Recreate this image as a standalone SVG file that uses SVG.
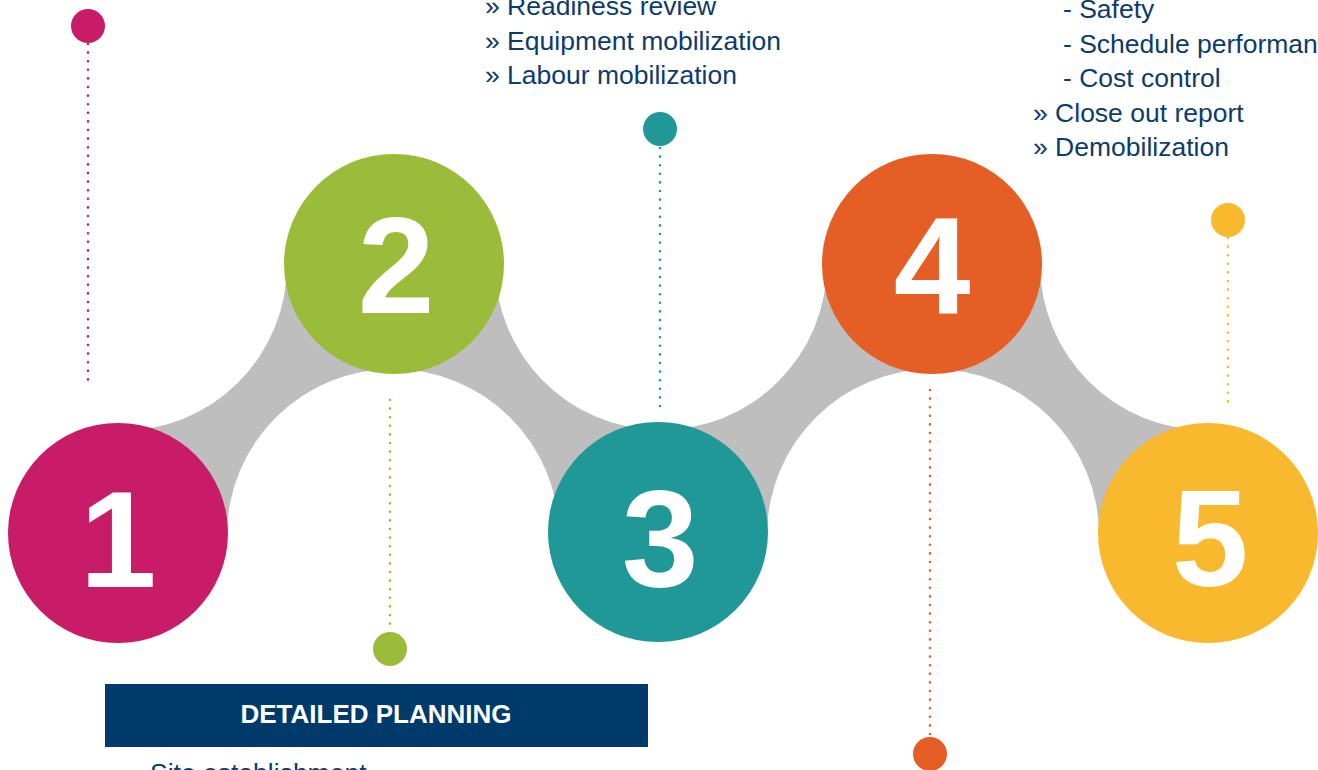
<svg xmlns="http://www.w3.org/2000/svg" width="1318" height="770" viewBox="0 0 1318 770">
<style>
.num{font-family:"Liberation Sans",Arial,sans-serif;font-weight:bold;font-size:138px;fill:#ffffff;text-anchor:middle}
.txt{font-family:"Liberation Sans",Arial,sans-serif;font-size:26.5px;fill:#0D3B6A}
.lead{fill:none;stroke-width:2.6;stroke-linecap:round;stroke-dasharray:0 8.6}
.hdr{font-family:"Liberation Sans",Arial,sans-serif;font-weight:bold;font-size:26px;fill:#ffffff;text-anchor:middle}
</style>
<rect width="1318" height="770" fill="#ffffff"/>
<g id="connectors">
<path fill="#BEBEBE" d="M118 533 L119.14 430.99 A166 166 0 0 0 287 264.39 L394 264 L393.61 369 A166 166 0 0 0 227 533.79 Z
M394 264 L495 264 A166 166 0 0 0 659.14 429.99 L658 532 L558.99 533.12 A166 166 0 0 0 393.61 369 Z
M658 532 L659.14 429.99 A166 166 0 0 0 827 264 L932 264 L932.39 369 A166 166 0 0 0 767.01 533.19 Z
M932 264 L1040 264 A166 166 0 0 0 1207.23 430 L1208 533 L1099 533.79 A166 166 0 0 0 932.39 369 Z"/>
</g>
<g id="node1">
<circle cx="118" cy="533" r="110" fill="#C81B68"/>
<text class="num" x="118" y="587">1</text>
</g>
<g id="node2">
<circle cx="394" cy="264" r="110" fill="#9BBB3B"/>
<text class="num" x="396" y="313">2</text>
</g>
<g id="node3">
<circle cx="658" cy="532" r="110" fill="#219898"/>
<text class="num" x="660" y="586">3</text>
</g>
<g id="node4">
<circle cx="932" cy="264" r="110" fill="#E55E25"/>
<text class="num" x="932" y="313">4</text>
</g>
<g id="node5">
<circle cx="1208" cy="533" r="110" fill="#F8B92E"/>
<text class="num" x="1210" y="586">5</text>
</g>
<g id="callout1">
<line class="lead" x1="88" y1="44" x2="88" y2="387" stroke="#C81B68"/>
<circle cx="88" cy="26" r="17" fill="#C81B68"/>
</g>
<g id="callout2">
<line class="lead" x1="390" y1="400" x2="390" y2="631" stroke="#9BBB3B"/>
<circle cx="390" cy="649" r="17" fill="#9BBB3B"/>
<rect x="105" y="684" width="543" height="63" fill="#003A6A"/>
<text class="hdr" x="376" y="723">DETAILED PLANNING</text>
<text class="txt" x="150" y="782">Site establishment</text>
</g>
<g id="callout3">
<line class="lead" x1="660" y1="148" x2="660" y2="410" stroke="#219898"/>
<circle cx="660" cy="129" r="17" fill="#219898"/>
<text class="txt" x="485" y="15">» Readiness review</text>
<text class="txt" x="485" y="50">» Equipment mobilization</text>
<text class="txt" x="485" y="84">» Labour mobilization</text>
</g>
<g id="callout4">
<line class="lead" x1="930" y1="390" x2="930" y2="736" stroke="#E55E25"/>
<circle cx="930" cy="754" r="17" fill="#E55E25"/>
</g>
<g id="callout5">
<line class="lead" x1="1228" y1="238" x2="1228" y2="410" stroke="#F8B92E"/>
<circle cx="1228" cy="220" r="17" fill="#F8B92E"/>
<text class="txt" x="1063" y="18">- Safety</text>
<text class="txt" x="1063" y="53">- Schedule performance</text>
<text class="txt" x="1063" y="87">- Cost control</text>
<text class="txt" x="1033" y="122">» Close out report</text>
<text class="txt" x="1033" y="156">» Demobilization</text>
</g>
</svg>
